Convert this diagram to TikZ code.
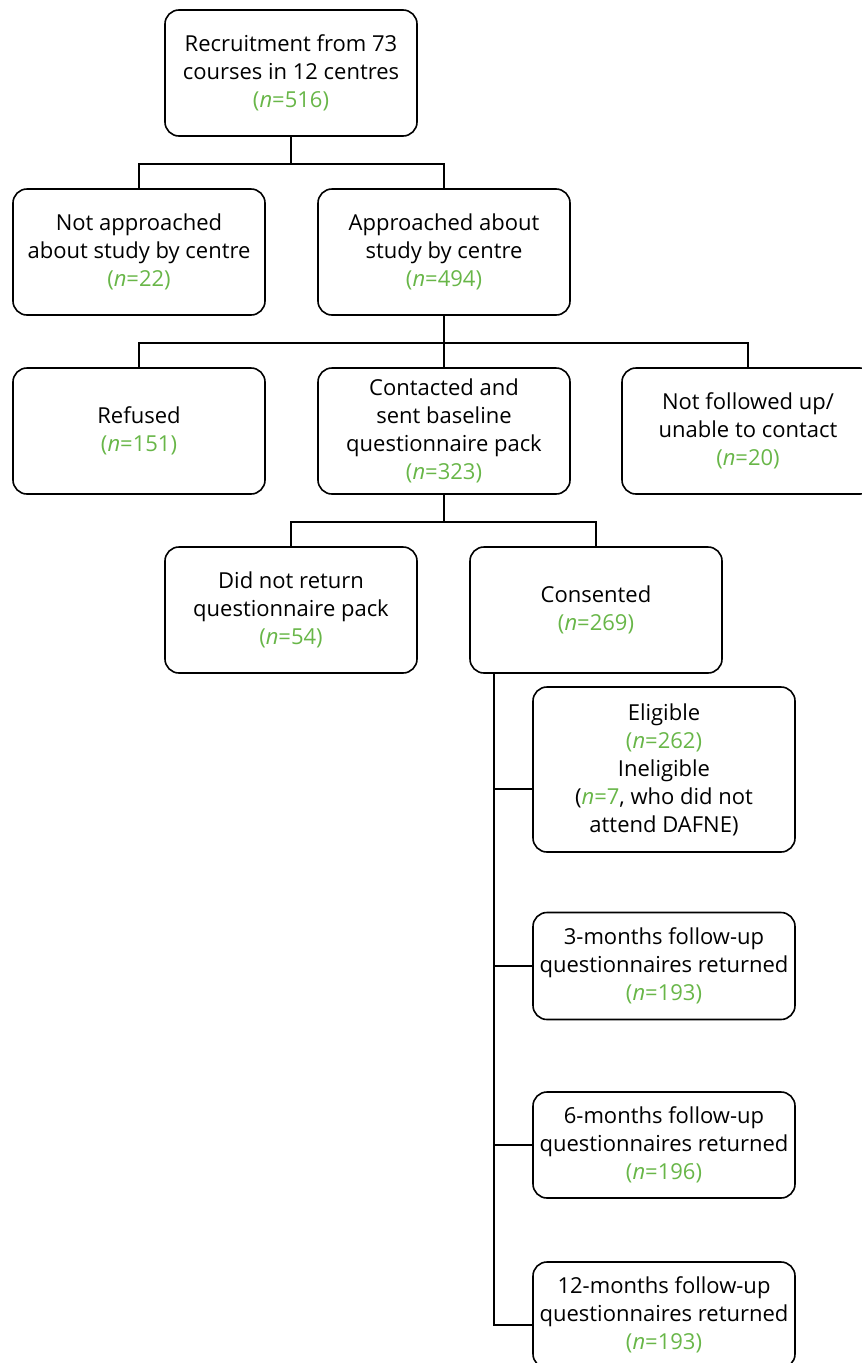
\documentclass[tikz,border=0pt]{standalone}
\usepackage{fontspec}
\setmainfont{Open Sans}
\usetikzlibrary{positioning}
\definecolor{nihr}{RGB}{104,182,72}
\newcommand{\nn}[1]{{\color{nihr}(\textit{n}=#1)}}
\begin{document}
\begin{tikzpicture}[x=1pt,y=-1pt,
  box/.style={draw, line width=1.6pt, rounded corners=14pt, align=center,
    minimum width=252pt, minimum height=126pt, inner sep=0pt,
    font=\fontsize{22}{28}\selectfont},
  sbox/.style={box, minimum width=262pt},
  conn/.style={line width=1.6pt}]
\useasboundingbox (0,0) rectangle (862,1363);
\node[box] (A) at (291,73) {Recruitment from 73\\courses in 12 centres\\\nn{516}};
\node[box] (B) at (139,252) {Not approached\\about study by centre\\\nn{22}};
\node[box] (C) at (444,252) {Approached about\\study by centre\\\nn{494}};
\node[box] (D) at (139,431) {Refused\\\nn{151}};
\node[box] (E) at (444,431) {Contacted and\\sent baseline\\questionnaire pack\\\nn{323}};
\node[box] (F) at (748,431) {Not followed up/\\unable to contact\\\nn{20}};
\node[box] (G) at (291,610) {Did not return\\questionnaire pack\\\nn{54}};
\node[box] (H) at (596,610) {Consented\\\nn{269}};
\node[sbox, minimum height=165pt] (I) at (664,769.5) {Eligible\\\nn{262}\\Ineligible\\({\color{nihr}\textit{n}=7}, who did not\\attend DAFNE)};
\node[sbox, minimum height=107pt] (J) at (664,966) {3-months follow-up\\questionnaires returned\\\nn{193}};
\node[sbox, minimum height=106pt] (K) at (664,1145) {6-months follow-up\\questionnaires returned\\\nn{196}};
\node[sbox, minimum height=106pt] (L) at (664,1315) {12-months follow-up\\questionnaires returned\\\nn{193}};
% tree connectors
\draw[conn] (A.south) -- ++(0,27) coordinate (a1);
\draw[conn] (B.north) |- (a1) -| (C.north);
\draw[conn] (C.south) -- ++(0,27) coordinate (c1);
\draw[conn] (D.north) |- (c1) -| (F.north);
\draw[conn] (c1) -- (E.north);
\draw[conn] (E.south) -- ++(0,27) coordinate (e1);
\draw[conn] (G.north) |- (e1) -| (H.north);
% spine
\coordinate (s0) at ([xshift=25pt]H.south west);
\coordinate (s4) at ([yshift=-10pt]L.west);
\draw[conn] (s0) -- (s0 |- s4) -- (s4);
\draw[conn] (s0 |- 0,789) -- (I.west |- 0,789);
\draw[conn] (s0 |- J.west) -- (J.west);
\draw[conn] (s0 |- K.west) -- (K.west);
\end{tikzpicture}
\end{document}
